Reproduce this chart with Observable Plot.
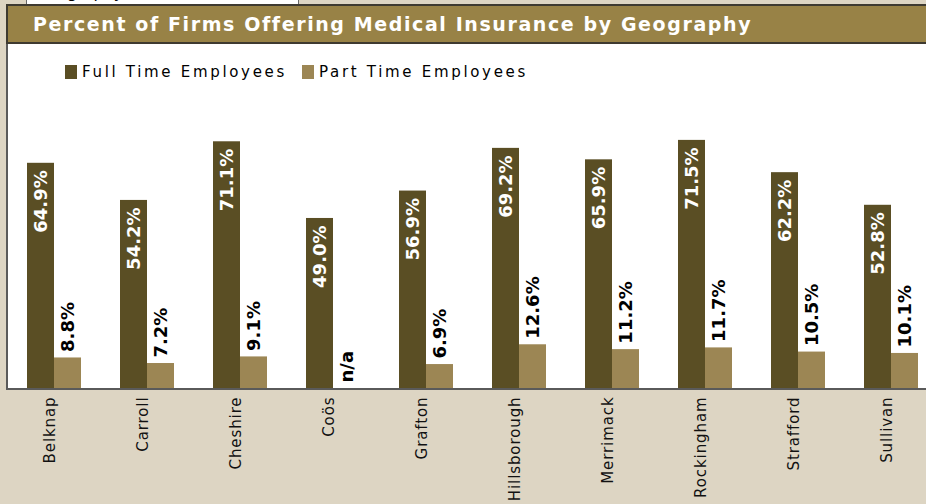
<!DOCTYPE html>
<html><head><meta charset="utf-8">
<script src="https://cdn.jsdelivr.net/npm/d3@7"></script>
<script src="https://cdn.jsdelivr.net/npm/@observablehq/plot@0.6"></script>
<style>
html,body{margin:0;padding:0;}
body{width:926px;height:504px;background:#ddd5c3;position:relative;overflow:hidden;font-family:"DejaVu Sans",sans-serif;}
#tab{position:absolute;left:26px;top:-20px;width:273px;height:25px;background:#fff;border:1px solid #666;box-sizing:border-box;overflow:hidden;}
#tab span{position:absolute;left:8px;top:2px;font-size:16px;line-height:20px;color:#000;}
#titlebar{position:absolute;left:6px;top:4px;width:940px;height:40px;background:#988246;border-top:2px solid #3e3a30;border-bottom:2px solid #3e3a30;border-left:2px solid #3e3a30;box-sizing:border-box;}
#title{position:absolute;left:33px;top:14px;color:#fff;font-weight:bold;font-size:19px;line-height:20px;white-space:nowrap;}
#panel{position:absolute;left:6px;top:44px;width:940px;height:346px;background:#fff;border-left:2px solid #5a5a5a;border-bottom:2px solid #5a5a5a;box-sizing:border-box;}
.sw{position:absolute;top:65px;width:12px;height:14px;}
.lt{position:absolute;top:63px;font-size:15px;line-height:18px;color:#000;white-space:nowrap;}
#chart{position:absolute;left:0;top:0;}
</style>
</head><body>
<div id="tab"><span>Geography</span></div>
<div id="titlebar"></div>
<div id="title"></div>
<div id="panel"></div>
<div id="legend"></div>
<div id="chart"></div>
<script>
const titleText = "Percent of Firms Offering Medical Insurance by Geography";
const counties = ["Belknap","Carroll","Cheshire","Coös","Grafton","Hillsborough","Merrimack","Rockingham","Strafford","Sullivan"];
const fullTime = [64.9,54.2,71.1,49.0,56.9,69.2,65.9,71.5,62.2,52.8];
const partTime = [8.8,7.2,9.1,null,6.9,12.6,11.2,11.7,10.5,10.1];
const seriesNames = ["Full Time Employees","Part Time Employees"];
const seriesColors = ["#5a4e24","#9c8654"];
const missingLabel = "n/a";

const data = counties.map((c,i)=>({county:c, full: fullTime[i], part: partTime[i]}));
const fmt = v => v.toFixed(1) + "%";

// fit text width helper
function fit(el, target){
  el.style.letterSpacing = "0px";
  const w = el.getBoundingClientRect().width;
  const n = el.textContent.length;
  el.style.letterSpacing = ((target - w)/n) + "px";
}

const title = document.getElementById("title");
title.textContent = titleText;
fit(title, 718);

// legend
const legend = document.getElementById("legend");
const legendPos = [{sx:65, tx:82, tw:205},{sx:302, tx:319, tw:209}];
seriesNames.forEach((name,i)=>{
  const sw = document.createElement("div");
  sw.className = "sw"; sw.style.left = legendPos[i].sx + "px"; sw.style.background = seriesColors[i];
  legend.appendChild(sw);
  const t = document.createElement("div");
  t.className = "lt"; t.style.left = legendPos[i].tx + "px"; t.textContent = name;
  legend.appendChild(t);
  fit(t, legendPos[i].tw);
});

const chart = Plot.plot({
  width: 926, height: 504,
  marginTop: 0, marginBottom: 0, marginLeft: 0, marginRight: 0,
  style: {background: "transparent", overflow: "visible"},
  x: {type: "band", domain: counties, range: [7.5, 937.5], paddingInner: 39/93, paddingOuter: 19.5/93, align: 0.5, axis: null},
  y: {domain: [0, 100], range: [388, 41], axis: null},
  marks: [
    Plot.barY(data, {x: "county", y: "full", fill: seriesColors[0], insetRight: 27}),
    Plot.barY(data.filter(d => d.part != null), {x: "county", y: "part", fill: seriesColors[1], insetLeft: 27}),
    Plot.text(data, {x: "county", y: "full", text: d => fmt(d.full), rotate: -90, textAnchor: "end", dx: -13.5, dy: 7, fill: "#fff", fontWeight: "bold", fontSize: 18, fontFamily: "DejaVu Sans"}),
    Plot.text(data, {x: "county", y: d => d.part ?? 0, text: d => d.part == null ? missingLabel : fmt(d.part), rotate: -90, textAnchor: "start", dx: 13.5, dy: -6, fill: "#000", fontWeight: "bold", fontSize: 18, fontFamily: "DejaVu Sans"}),
    Plot.text(counties, {x: d => d, y: 0, text: d => d, rotate: -90, textAnchor: "end", lineAnchor: "bottom", dy: 8, fill: "#111", fontSize: 15, fontFamily: "DejaVu Sans"})
  ]
});
document.getElementById("chart").appendChild(chart);
const textGroups = chart.querySelectorAll('g[aria-label="text"]');
if (textGroups.length >= 3) textGroups[2].style.letterSpacing = "0.9px";
</script>
</body></html>
